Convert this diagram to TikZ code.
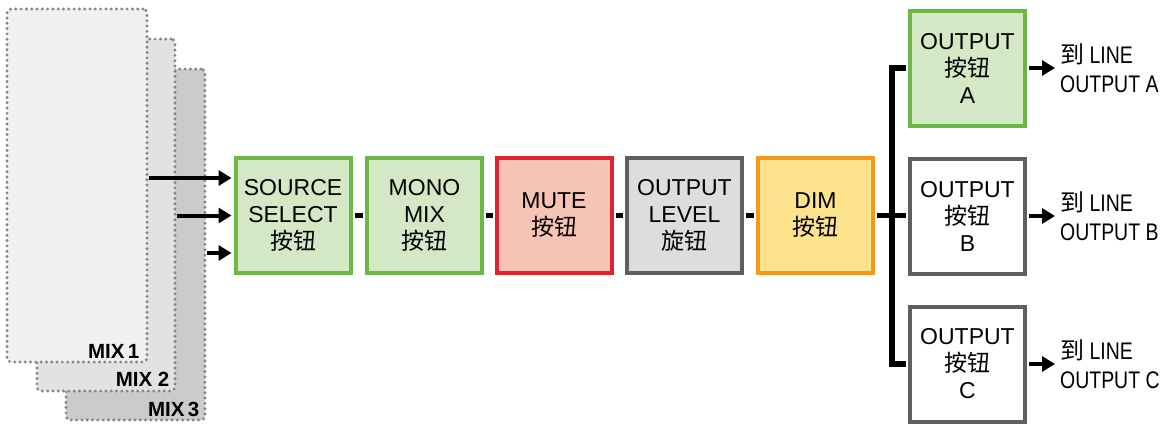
\documentclass[tikz,border=0pt]{standalone}
\usepackage{fontspec}
\setmainfont{Liberation Sans}
\newfontfamily\cjkf{Noto Sans CJK SC}
\newfontfamily\condf[FakeStretch=0.81]{Liberation Sans}
\newcommand{\zh}[1]{{\cjkf #1}}
\usetikzlibrary{arrows.meta}
\definecolor{gborder}{RGB}{108,184,68}
\definecolor{gfill}{RGB}{213,232,197}
\definecolor{rborder}{RGB}{227,34,46}
\definecolor{rfill}{RGB}{245,196,180}
\definecolor{kborder}{RGB}{95,95,95}
\definecolor{kfill}{RGB}{221,221,221}
\definecolor{oborder}{RGB}{243,154,30}
\definecolor{ofill}{RGB}{253,227,140}
\definecolor{pborder}{RGB}{132,132,132}
\definecolor{pfillA}{RGB}{240,240,240}
\definecolor{pfillB}{RGB}{226,226,226}
\definecolor{pfillC}{RGB}{203,203,203}
\tikzset{
  blk/.style={draw, line width=4pt, minimum width=115pt, minimum height=115pt,
    inner sep=0pt, align=center, font=\fontsize{23}{27}\selectfont},
  gbox/.style={blk, draw=gborder, fill=gfill},
  rbox/.style={blk, draw=rborder, fill=rfill},
  kbox/.style={blk, draw=kborder, fill=kfill},
  obox/.style={blk, draw=oborder, fill=ofill},
  wbox/.style={blk, draw=kborder, fill=white},
  panel/.style={draw=pborder, line width=3.2pt, dash pattern=on 0pt off 5.3pt,
    line cap=round, rounded corners=4pt, inner sep=0pt},
  mixlbl/.style={anchor=base east, inner sep=0pt, font=\bfseries\fontsize{20.5}{20.5}\selectfont},
  wire/.style={line width=5.5pt, shorten <=2pt, shorten >=2pt},
  arr/.style={line width=4pt, -{Triangle[length=13pt,width=15pt]}},
  lbl/.style={anchor=west, align=left, inner sep=0pt, font=\condf\fontsize{24}{29}\selectfont},
}
\begin{document}
\begin{tikzpicture}[x=1pt,y=-1pt]
\useasboundingbox (0,0) rectangle (1161,423);
% panels
\node[panel, fill=pfillC, minimum width=139pt, minimum height=351pt] (mix3) at (135.5,244.5) {};
\node[panel, fill=pfillB, minimum width=138pt, minimum height=352pt] (mix2) at (106,215) {};
\node[panel, fill=pfillA, minimum width=140pt, minimum height=353pt] (mix1) at (77,185.5) {};
\node[mixlbl] (m1l) at ([xshift=-9pt,yshift=5pt]mix1.south east) {MIX\,1};
\node[mixlbl] (m2l) at ([xshift=-7pt,yshift=6pt]mix2.south east) {MIX 2};
\node[mixlbl] (m3l) at ([xshift=-7pt,yshift=5pt]mix3.south east) {MIX\,3};
% chain
\node[gbox] (src) at (293,215.5) {SOURCE\\SELECT\\\zh{按钮}};
\node[gbox] (mono) at (424.5,215.5) {MONO\\MIX\\\zh{按钮}};
\node[rbox] (mute) at (554,215.5) {MUTE\\\zh{按钮}};
\node[kbox] (level) at (684.5,215.5) {OUTPUT\\LEVEL\\\zh{旋钮}};
\node[obox] (dim) at (815.5,215.5) {DIM\\\zh{按钮}};
\node[gbox] (outA) at (967.5,68) {OUTPUT\\\zh{按钮}\\A};
\node[wbox] (outB) at (967.5,216) {OUTPUT\\\zh{按钮}\\B};
\node[wbox] (outC) at (967.5,364) {OUTPUT\\\zh{按钮}\\C};
% input arrows
\coordinate (in1) at ([yshift=37.5pt]src.west);
\coordinate (in2) at (src.west);
\coordinate (in3) at ([yshift=-37.5pt]src.west);
\draw[arr, shorten >=2pt] (mix1.east |- in1) -- (in1);
\draw[arr, shorten >=2pt] (mix2.east |- in2) -- (in2);
\draw[arr, shorten >=2pt] (mix3.east |- in3) -- (in3);
% chain wires
\draw[wire] (src.east) -- (mono.west);
\draw[wire] (mono.east) -- (mute.west);
\draw[wire] (mute.east) -- (level.west);
\draw[wire] (level.east) -- (dim.west);
\coordinate (bus) at (892,215.5);
\draw[wire] (dim.east) -- (dim.east -| outB.west);
\draw[wire, line join=miter] (outA.west) -| (bus) |- (outC.west);
% output arrows
\coordinate (endA) at ([xshift=28pt]outA.east);
\coordinate (endB) at ([xshift=28pt]outB.east);
\coordinate (endC) at ([xshift=28pt]outC.east);
\draw[arr, shorten <=2pt] (outA.east) -- (endA);
\draw[arr, shorten <=2pt] (outB.east) -- (endB);
\draw[arr, shorten <=2pt] (outC.east) -- (endC);
\node[lbl] (labA) at ([xshift=5pt]endA) {\zh{到} LINE\\OUTPUT A};
\node[lbl] (labB) at ([xshift=5pt]endB) {\zh{到} LINE\\OUTPUT B};
\node[lbl] (labC) at ([xshift=5pt]endC) {\zh{到} LINE\\OUTPUT C};
\end{tikzpicture}
\end{document}
